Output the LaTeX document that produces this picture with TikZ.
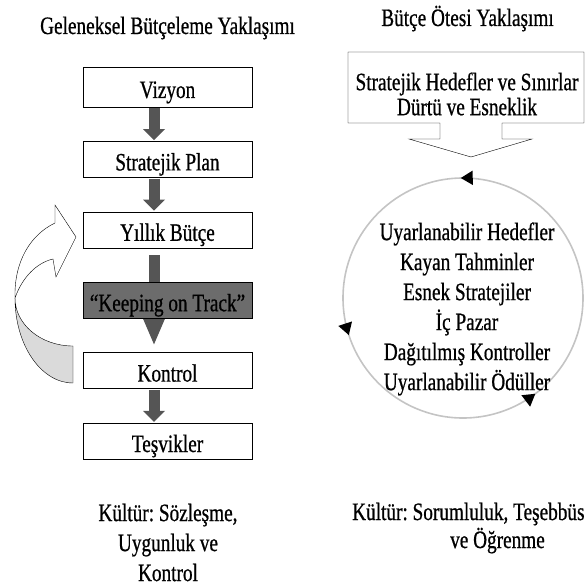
\documentclass[tikz,border=0pt]{standalone}
\usepackage{fontspec}
\setmainfont{Liberation Serif}[FakeStretch=0.77, FakeBold=0.7]
\frenchspacing
\usetikzlibrary{positioning,arrows.meta,decorations.markings,backgrounds}
\definecolor{arrowgray}{HTML}{555555}
\definecolor{trackgray}{HTML}{6C6C6C}
\definecolor{ringgray}{HTML}{C4C4C4}
\definecolor{backgray}{HTML}{DADADA}
\tikzstyle{stagebox}=[shape = rectangle, draw, minimum width = 169pt, inner ysep = 0pt, text height = 29pt, text depth = 7pt, font = \fontsize{25}{30}\selectfont]
\tikzstyle{headline}=[inner sep = 0pt, anchor = base, font = \fontsize{25}{30}\selectfont]
\tikzstyle{listtext}=[inner sep = 0pt, align = center, font = \fontsize{25}{30}\selectfont]
\tikzstyle{flow}=[line width = 11pt, draw = arrowgray, shorten < = 1pt, shorten > = 1pt, -{Triangle[width = 22pt, length = 11pt, line width = 0pt]}]
\tikzstyle{bigflow}=[flow, shorten < = 7pt, shorten > = 8pt, -{Triangle[width = 24pt, length = 28pt, line width = 0pt]}]

\begin{document}
\begin{tikzpicture}[x = 1pt, y = -1pt, node distance = 34pt]
\useasboundingbox (0,0) rectangle (585,588);
% geleneksel
\node[headline] (titleA) at (167.5,34) {Geleneksel Bütçeleme Yaklaşımı};
\node[stagebox, text height = 31pt, text depth = 9pt] (viz) at (167.5,87) {Vizyon};
\node[stagebox, below = of viz] (plan) {Stratejik Plan};
\node[stagebox, below = of plan] (yil) {Yıllık Bütçe};
\node[stagebox, below = of yil, fill = trackgray] (keep) {“Keeping on Track”};
\node[stagebox, below = of keep] (kon) {Kontrol};
\node[stagebox, below = of kon] (tes) {Teşvikler};
\begin{scope}[on background layer]
\draw[flow] ([xshift = -13.5pt]viz.south) -- ([xshift = -13.5pt]plan.north);
\draw[flow] ([xshift = -13.5pt]plan.south) -- ([xshift = -13.5pt]yil.north);
\draw[bigflow] ([xshift = -13.5pt]yil.south) -- ([xshift = -13.5pt]kon.north);
\draw[flow] ([xshift = -13.5pt]kon.south) -- ([xshift = -13.5pt]tes.north);
\end{scope}
% geri donus oku
\filldraw[fill = backgray, thin] (73,346) -- (73,383) arc[start angle = 90, end angle = 180, x radius = 58, y radius = 85]
  arc[start angle = 180, end angle = 90, x radius = 58, y radius = 48] -- cycle;
\filldraw[fill = white, thin] (15,298) .. controls (14,262) and (30,235) .. (55,223) -- (55,205) -- (76,237) -- (56,277)
  -- (53,259) .. controls (36,263) and (22,278) .. (15,298) -- cycle;
\node[listtext] (cultA) at (168,542.5) {Kültür: Sözleşme,\\Uygunluk ve\\Kontrol};
% butce otesi
\node[headline] (titleB) at (467.5,26) {Bütçe Ötesi Yaklaşımı};
\draw[thin] (348,52) -- (584,52) -- (584,123) -- (502,123) -- (502,139) -- (532,139) -- (471,157) -- (409,139)
  -- (440,139) -- (440,123) -- (348,123) -- cycle;
\node[listtext, font = \fontsize{25}{25}\selectfont] (goals) at (467,94) {Stratejik Hedefler ve Sınırlar\\Dürtü ve Esneklik};
\draw[ringgray, line width = 1.6pt, postaction = {decorate}, decoration = {markings,
  mark = at position 0.147 with {\arrowreversed[black]{Triangle[length = 12pt, width = 14pt]}},
  mark = at position 0.45 with {\arrowreversed[black]{Triangle[length = 12pt, width = 14pt]}},
  mark = at position 0.747 with {\arrowreversed[black]{Triangle[length = 12pt, width = 14pt]}}}]
  (463,298) circle[radius = 120];
\node[listtext] (ways) at (467,309) {Uyarlanabilir Hedefler\\Kayan Tahminler\\Esnek Stratejiler\\İç Pazar\\Dağıtılmış Kontroller\\Uyarlanabilir Ödüller};
\node[headline, anchor = base west] (cultB) at (352,520) {Kültür: Sorumluluk, Teşebbüs};
\node[headline, anchor = base west] (cultB2) at (450,548) {ve Öğrenme};
\end{tikzpicture}
\end{document}
